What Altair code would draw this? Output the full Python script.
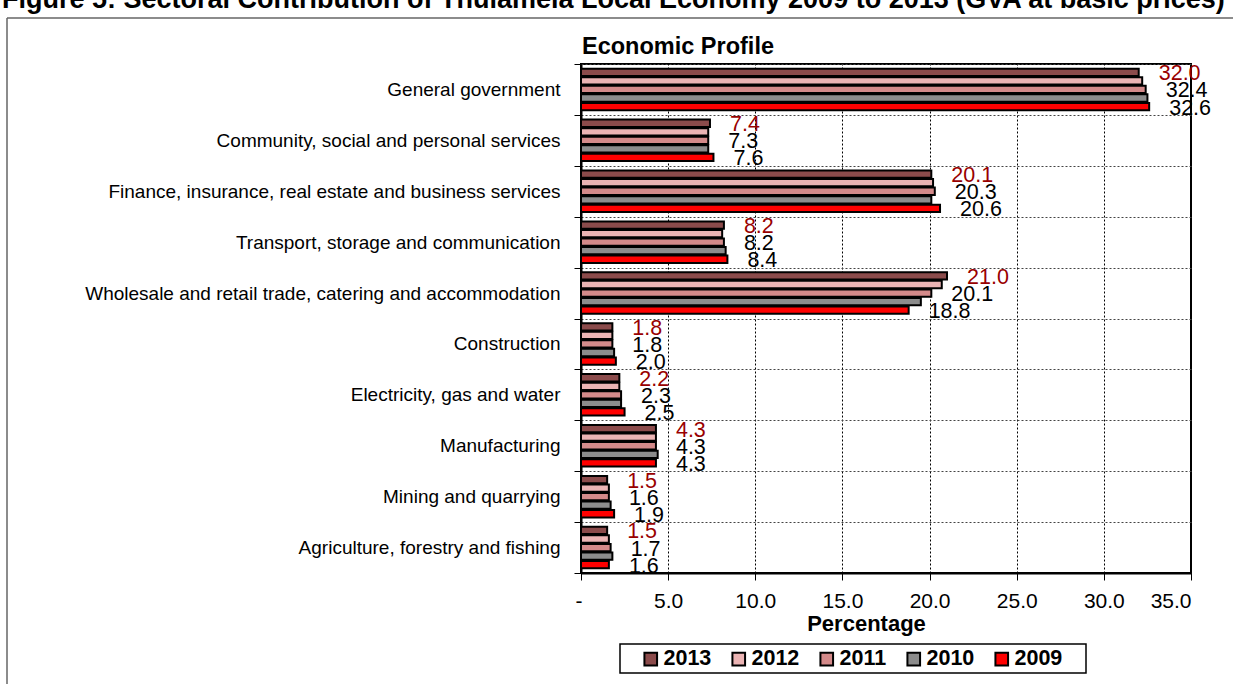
import altair as alt
import pandas as pd

categories = [
    "General government ",
    "Community, social and personal services",
    "Finance, insurance, real estate and business services",
    "Transport, storage and communication",
    "Wholesale and retail trade, catering and accommodation",
    "Construction",
    "Electricity, gas and water",
    "Manufacturing",
    "Mining and quarrying",
    "Agriculture, forestry and fishing",
]
years = ["2013", "2012", "2011", "2010", "2009"]
v2013 = [32.0, 7.4, 20.1, 8.2, 21.0, 1.8, 2.2, 4.3, 1.5, 1.5]
v2012 = [32.2, 7.3, 20.2, 8.1, 20.7, 1.8, 2.2, 4.3, 1.6, 1.6]
v2011 = [32.4, 7.3, 20.3, 8.2, 20.1, 1.8, 2.3, 4.3, 1.6, 1.7]
v2010 = [32.5, 7.3, 20.1, 8.3, 19.5, 1.9, 2.3, 4.4, 1.7, 1.8]
v2009 = [32.6, 7.6, 20.6, 8.4, 18.8, 2.0, 2.5, 4.3, 1.9, 1.6]
labelled_years = ["2013", "2011", "2009"]
bar_colors = ["#8B4B4B", "#EBB4B4", "#D48A8A", "#8C8C8C", "#FF0000"]
x_ticks = [0, 5, 10, 15, 20, 25, 30, 35]
caption = "Figure 5: Sectoral Contribution of Thulamela Local Economy 2009 to 2013 (GVA at basic prices)"
chart_title = "Economic Profile"
x_title = "Percentage"

series = {"2013": v2013, "2012": v2012, "2011": v2011, "2010": v2010, "2009": v2009}
rows = []
for yr in years:
    for c, v in zip(categories, series[yr]):
        rows.append({"Sector": c, "Year": yr, "Value": v})
df = pd.DataFrame(rows)

W, H = 610, 509
PAD = {"left": 581, "top": 64, "right": 42, "bottom": 111}
FONT = "Liberation Sans"

xenc = alt.X(
    "Value:Q",
    scale=alt.Scale(domain=[0, 35], nice=False),
    axis=alt.Axis(
        values=x_ticks,
        title=x_title,
        labelExpr="datum.value == 0 ? '-' : format(datum.value, '.1f')",
        labelOffset={"condition": {"test": "datum.value == 0", "value": -6}, "value": 0},
        grid=True,
        gridDash=[2, 2],
        gridColor="#000",
        gridWidth=1,
        tickSize=7,
        tickColor="#000",
        domainColor="#000",
        domainWidth=2,
        labelFontSize=21,
        labelColor="#000",
        labelPadding=10,
        titleFontSize=22,
        titleFontWeight="bold",
        titleColor="#000",
        titleX=285,
        titleY=57,
        titleAlign="center",
        titleBaseline="alphabetic",
    ),
)
yenc = alt.Y(
    "Sector:N",
    sort=categories,
    scale=alt.Scale(paddingInner=0, paddingOuter=0),
    axis=alt.Axis(
        title=None,
        tickBand="extent",
        grid=True,
        gridDash=[2, 2],
        gridColor="#444",
        gridWidth=1,
        tickSize=7,
        tickColor="#000",
        domainColor="#000",
        domainWidth=2,
        labelFontSize=19,
        labelColor="#000",
        labelPadding=14,
        labelLimit=700,
    ),
)
yoff = alt.YOffset(
    "Year:N", sort=years,
    scale=alt.Scale(domain=years, paddingInner=0.15, paddingOuter=0.55),
)

bars = alt.Chart(df).mark_bar(stroke="black", strokeWidth=2).encode(
    x=xenc,
    y=yenc,
    yOffset=yoff,
    color=alt.Color(
        "Year:N",
        sort=years,
        scale=alt.Scale(domain=years, range=bar_colors),
        legend=alt.Legend(
            title=None,
            orient="none",
            legendX=59,
            legendY=584,
            direction="horizontal",
            padding=0,
            symbolType="square",
            symbolSize=160,
            symbolStrokeColor="black",
            symbolStrokeWidth=2,
            symbolOpacity=1,
            labelFontSize=21.5,
            labelFontWeight="bold",
            labelColor="#000",
            columnPadding=16,
            labelOffset=2,
        ),
    ),
    tooltip=["Sector", "Year", "Value"],
)

labels = alt.Chart(df).transform_filter(
    alt.FieldOneOfPredicate(field="Year", oneOf=labelled_years)
).mark_text(align="left", baseline="middle", dx=20, dy=2, fontSize=21.5).encode(
    x=alt.X("Value:Q"),
    y=alt.Y("Sector:N", sort=categories),
    yOffset=yoff,
    text=alt.Text("Value:Q", format=".1f"),
    color=alt.condition("datum.Year == '2013'", alt.value("#990000"), alt.value("#000000")),
)

one = pd.DataFrame({"k": [0]})
frame_left = alt.Chart(one).mark_rule(color="#666", strokeWidth=1.5).encode(
    x=alt.value(-574), y=alt.value(-46), y2=alt.value(640)
)
frame_top = alt.Chart(one).mark_rule(color="#666", strokeWidth=1.5).encode(
    x=alt.value(-574), x2=alt.value(660), y=alt.value(-46)
)
legend_box = alt.Chart(one).mark_rect(fill="white", stroke="black", strokeWidth=1.5).encode(
    x=alt.value(39), x2=alt.value(505), y=alt.value(580), y2=alt.value(609)
)
cap = alt.Chart(one).mark_text(
    text=caption, align="left", baseline="alphabetic", fontSize=27, fontWeight="bold", color="#000"
).encode(x=alt.value(-579), y=alt.value(-56.5))
ttl = alt.Chart(one).mark_text(
    text=chart_title, align="center", baseline="middle", fontSize=23.5, fontWeight="bold", color="#000"
).encode(x=alt.value(97), y=alt.value(-17))

chart = alt.layer(frame_left, frame_top, legend_box, bars, labels, cap, ttl).properties(
    width=W, height=H, padding=PAD, autosize=alt.AutoSizeParams(type="none"),
    background="white",
).configure(font=FONT).configure_view(stroke="black", strokeWidth=2)

chart.save("out.html", embed_options={"renderer": "svg", "actions": False})
